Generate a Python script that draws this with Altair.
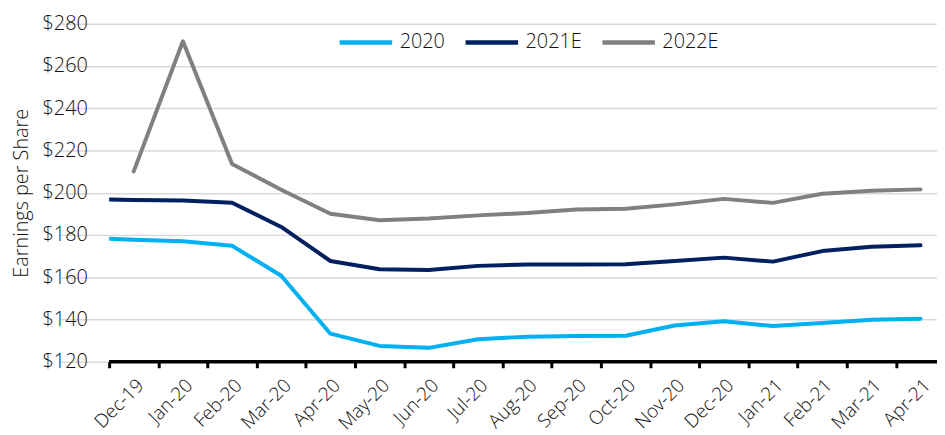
import altair as alt
import pandas as pd

# ---- data ----
months = ["Nov-19", "Dec-19", "Jan-20", "Feb-20", "Mar-20", "Apr-20", "May-20", "Jun-20",
          "Jul-20", "Aug-20", "Sep-20", "Oct-20", "Nov-20", "Dec-20", "Jan-21", "Feb-21",
          "Mar-21", "Apr-21"]
shown_months = months[1:]

eps_2020 = [178.6, 177.8, 177.0, 174.9, 160.7, 133.3, 127.5, 126.6, 130.7, 131.9, 132.2,
            132.3, 137.2, 139.2, 136.9, 138.4, 139.9, 140.4]
eps_2021e = [197.0, 196.6, 196.3, 195.3, 183.8, 167.7, 163.8, 163.4, 165.4, 166.0, 166.0,
             166.2, 167.7, 169.3, 167.4, 172.4, 174.4, 175.2]
eps_2022e = [None, 210.1, 271.7, 213.6, 201.4, 190.1, 187.0, 187.8, 189.3, 190.4, 192.1,
             192.4, 194.5, 197.1, 195.2, 199.5, 200.9, 201.6]

series_names = ["2020", "2021E", "2022E"]
series_colors = ["#00B0F0", "#002060", "#808080"]
y_ticks = [120, 140, 160, 180, 200, 220, 240, 260, 280]
axis_base = [120]

rows = []
for name, vals in zip(series_names, [eps_2020, eps_2021e, eps_2022e]):
    for m, v in zip(months, vals):
        if v is not None:
            rows.append({"month": m, "series": name, "eps": v})
df = pd.DataFrame(rows)
rule_df = pd.DataFrame({"eps": axis_base})

FONT = "Open Sans"
TXT = "#111111"
W = 300
BAND = 49.6

x_scale = alt.Scale(type="band", domain=months, range=[-BAND, BAND * 17],
                    paddingInner=0, paddingOuter=0)

y_enc = alt.Y(
    "eps:Q",
    scale=alt.Scale(domain=[120, 280], nice=False, zero=False),
    axis=alt.Axis(
        values=y_ticks, format="$.0f", title="Earnings per Share",
        titleFont=FONT, titleFontSize=20, titleFontWeight=W, titleColor=TXT,
        titleAngle=-90, titleX=-88, titleY=170.5, titleAlign="center", titleBaseline="middle",
        labelFont=FONT, labelFontSize=20, labelFontWeight=W, labelColor=TXT, labelPadding=22,
        ticks=False, domain=False, grid=True, gridColor="#D9D9D9", gridWidth=1.5,
    ),
)

lines = alt.Chart(df).mark_line(
    strokeWidth=4, strokeCap="round", strokeJoin="round", clip=True
).encode(
    x=alt.X(
        "month:N", scale=x_scale, bandPosition=0.5,
        axis=alt.Axis(
            values=shown_months, title=None, labelAngle=-45, tickBand="extent",
            domain=False, ticks=True, tickColor="black", tickWidth=3, tickSize=6,
            labelFont=FONT, labelFontSize=19, labelFontWeight=W, labelColor=TXT,
            labelPadding=8, grid=False,
        ),
    ),
    y=y_enc,
    color=alt.Color(
        "series:N",
        scale=alt.Scale(domain=series_names, range=series_colors),
        legend=alt.Legend(
            orient="none", legendX=230, legendY=-10, direction="horizontal", title=None,
            symbolType="stroke", symbolSize=2809, symbolStrokeWidth=4.5,
            labelFont=FONT, labelFontSize=20, labelFontWeight=W, labelColor=TXT,
            labelOffset=5, columnPadding=11,
        ),
    ),
)

base_rule = alt.Chart(rule_df).mark_rule(color="black", strokeWidth=3.5).encode(y=y_enc)

chart = alt.layer(lines, base_rule).properties(
    width=835, height=341,
    padding={"left": 102, "top": 14, "right": 0, "bottom": 72},
    autosize=alt.AutoSizeParams(type="none"),
).configure(font=FONT).configure_view(stroke=None)

chart.save("out.html", embed_options={"renderer": "svg", "actions": False})
